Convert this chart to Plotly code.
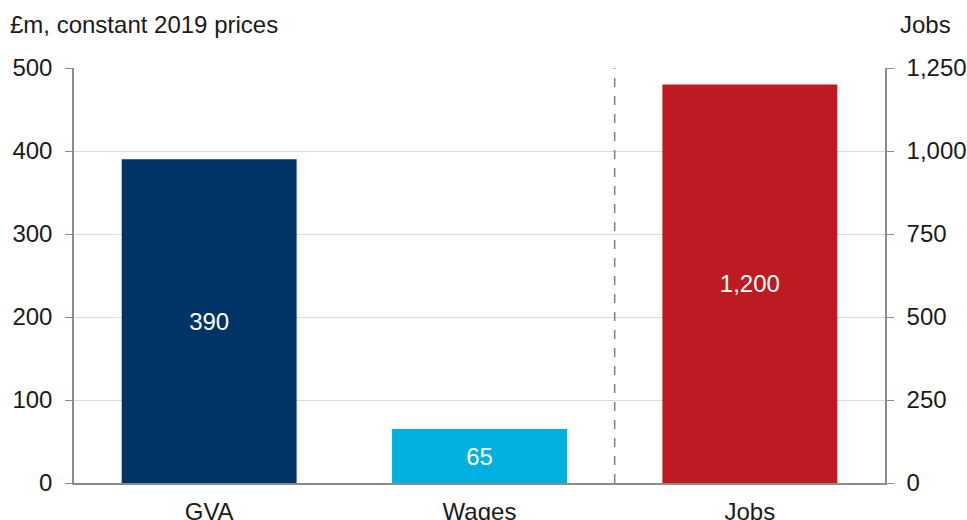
import plotly.graph_objects as go

# Economic impact figures
categories = ["GVA", "Wages", "Jobs"]
money_categories = ["GVA", "Wages"]
money_values = [390, 65]          # £m, constant 2019 prices
jobs_categories = ["Jobs"]
jobs_values = [1200]              # number of jobs

left_ticks = [0, 100, 200, 300, 400, 500]
right_ticks = [0, 250, 500, 750, 1000, 1250]

FONT = "Liberation Sans, Arial, sans-serif"
FS = 24
TXT = "#1a1a1a"
AXIS_GREY = "#8C8C8C"

fig = go.Figure()

fig.add_trace(go.Bar(
    x=money_categories, y=money_values,
    marker=dict(color=["#003366", "#00B0E0"], line=dict(width=0)),
    width=0.647,
    text=[f"{v:,}" for v in money_values],
    textposition="inside", insidetextanchor="middle",
    textfont=dict(color="white", size=FS, family=FONT),
    yaxis="y", offsetgroup="a", showlegend=False, hoverinfo="x+y",
))

fig.add_trace(go.Bar(
    x=jobs_categories, y=jobs_values,
    marker=dict(color="#BE1A22", line=dict(width=0)),
    width=0.647,
    text=[f"{v:,}" for v in jobs_values],
    textposition="inside", insidetextanchor="middle",
    textfont=dict(color="white", size=FS, family=FONT),
    yaxis="y2", offsetgroup="a", showlegend=False, hoverinfo="x+y",
))

# dashed divider between the £m series and the jobs series
fig.add_shape(type="line", xref="x", yref="paper", x0=1.5, x1=1.5, y0=0, y1=1,
              line=dict(color="#7F7F7F", width=1.5, dash="dash"))

fig.update_layout(
    width=967, height=520,
    margin=dict(l=74, r=82, t=68, b=37),
    paper_bgcolor="white", plot_bgcolor="white",
    barmode="overlay",
    uniformtext=dict(minsize=FS, mode="show"),
    font=dict(family=FONT, size=FS, color=TXT),
    xaxis=dict(
        type="category", categoryorder="array", categoryarray=categories,
        range=[-0.5, 2.5], showline=True, linecolor=AXIS_GREY, linewidth=1.5,
        ticks="", showgrid=False, ticklabelstandoff=6, automargin=False,
        tickfont=dict(size=FS, family=FONT, color=TXT),
    ),
    yaxis=dict(
        range=[0, 500], tickvals=left_ticks, showline=True, linecolor=AXIS_GREY,
        linewidth=1.5, ticks="outside", ticklen=7, tickcolor=AXIS_GREY,
        showgrid=True, gridcolor="#D9D9D9", gridwidth=1, zeroline=False,
        ticklabelstandoff=8, automargin=False,
        tickfont=dict(size=FS, family=FONT, color=TXT),
    ),
    yaxis2=dict(
        range=[0, 1250], tickvals=right_ticks, tickformat=",", overlaying="y",
        side="right", showline=True, linecolor=AXIS_GREY, linewidth=1.5,
        ticks="outside", ticklen=7, tickcolor=AXIS_GREY, showgrid=False,
        zeroline=False, ticklabelstandoff=8, automargin=False,
        tickfont=dict(size=FS, family=FONT, color=TXT),
    ),
    annotations=[
        dict(text="£m, constant 2019 prices", xref="paper", yref="paper",
             x=-74 / 811, y=1 + 43 / 415, xanchor="left", yanchor="middle",
             xshift=8, showarrow=False, font=dict(size=FS, family=FONT, color=TXT)),
        dict(text="Jobs", xref="paper", yref="paper",
             x=1, y=1 + 43 / 415, xanchor="left", yanchor="middle",
             xshift=13, showarrow=False, font=dict(size=FS, family=FONT, color=TXT)),
    ],
)

fig.write_html("out.html")
